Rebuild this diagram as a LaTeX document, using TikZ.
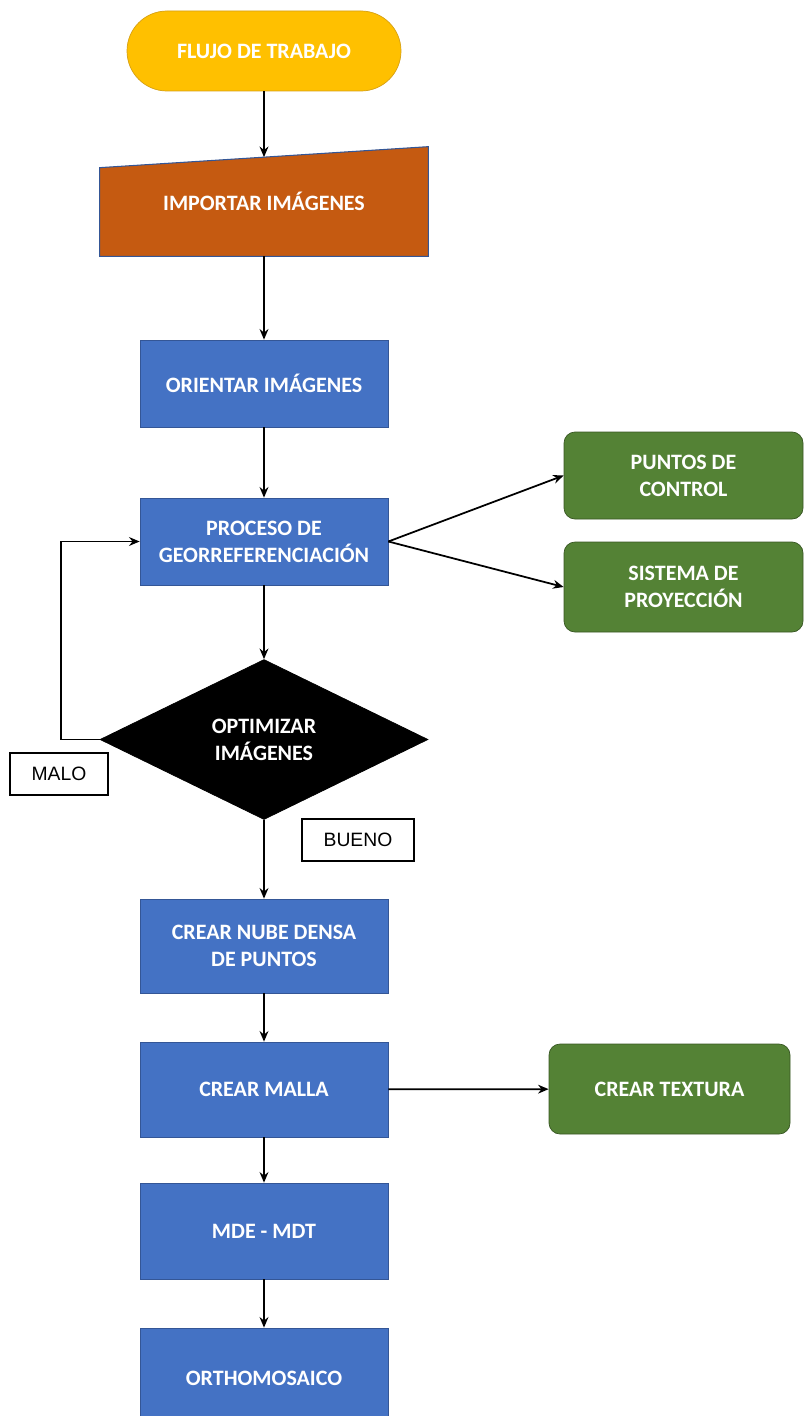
\documentclass[tikz,border=0pt]{standalone}
\usepackage{fontspec}
\setmainfont{Carlito}
\newfontfamily\arialfont{Liberation Sans}
\usepackage{tikz}
\usetikzlibrary{shapes.geometric, arrows.meta, positioning, calc, backgrounds}
\definecolor{startyellow}{RGB}{255,192,0}
\definecolor{startedge}{RGB}{214,160,20}
\definecolor{importorange}{RGB}{197,90,17}
\definecolor{procblue}{RGB}{68,114,196}
\definecolor{edgeblue}{RGB}{52,86,150}
\definecolor{subgreen}{RGB}{84,130,53}
\definecolor{edgegreen}{RGB}{56,87,35}

\begin{document}
\begin{tikzpicture}[
    boxtext/.style={text=white, font=\fontsize{12.5}{15.3}\selectfont\bfseries, align=center},
    terminal/.style={rectangle, draw=startedge, fill=startyellow, rounded corners=0.8cm, minimum width=5.48cm, minimum height=1.6cm, boxtext},
    process/.style={rectangle, draw=edgeblue, fill=procblue, minimum width=4.96cm, minimum height=1.74cm, boxtext},
    subproc/.style={rectangle, draw=edgegreen, fill=subgreen, rounded corners=0.22cm, minimum width=4.78cm, minimum height=1.74cm, boxtext},
    decision/.style={diamond, fill=black, draw=black, minimum width=6.56cm, minimum height=3.2cm, inner sep=0pt, boxtext},
    tag/.style={rectangle, draw, line width=0.6pt, font=\arialfont\fontsize{11}{13}\selectfont, minimum height=0.84cm},
    arrow/.style={->, >={Stealth[length=6pt,width=5pt]}, line width=1pt}
]
\useasboundingbox (0,0) rectangle (16.08,-28.32);

% Start
\node[terminal] (inicio) at (5.28,-1.02) {FLUJO DE TRABAJO};

% Manual input (slanted top)
\node[boxtext, minimum width=6.56cm, minimum height=2.18cm] (importar) at (5.28,-4.03) {IMPORTAR IMÁGENES};
\begin{scope}[on background layer]
\filldraw[fill=importorange, draw=edgeblue, line width=0.6pt]
    (importar.south west) -- (importar.south east) -- (importar.north east)
    -- ([yshift=-0.42cm]importar.north west) -- cycle;
\end{scope}
\coordinate (importarin) at ($(importar.north east)!0.5!([yshift=-0.42cm]importar.north west)$);

% Main column
\node[process] (orientar) at (5.28,-7.67) {ORIENTAR IMÁGENES};
\node[process] (georef) at (5.28,-10.83) {PROCESO DE\\GEORREFERENCIACIÓN};
\node[decision] (optimizar) at (5.28,-14.79) {OPTIMIZAR\\IMÁGENES};
\node[process, minimum height=1.88cm] (nube) at (5.28,-18.92) {CREAR NUBE DENSA\\DE PUNTOS};
\node[process, minimum height=1.9cm] (malla) at (5.28,-21.79) {CREAR MALLA};
\node[process, minimum height=1.92cm] (mde) at (5.28,-24.62) {MDE - MDT};
\node[process, minimum height=2cm] (ortho) at (5.28,-27.56) {ORTHOMOSAICO};

% Side boxes
\node[subproc] (puntos) at (13.67,-9.51) {PUNTOS DE\\CONTROL};
\node[subproc, minimum height=1.8cm] (sistema) at (13.67,-11.74) {SISTEMA DE\\PROYECCIÓN};
\node[subproc, minimum width=4.82cm, minimum height=1.8cm] (textura) at (13.39,-21.78) {CREAR TEXTURA};

% Decision labels
\node[tag, minimum width=1.96cm] (malo) at (1.18,-15.48) {MALO};
\node[tag, minimum width=2.24cm] (bueno) at (7.16,-16.8) {BUENO};

% Arrows
\draw[arrow] (inicio) -- (importarin);
\draw[arrow] (importar) -- (orientar);
\draw[arrow] (orientar) -- (georef);
\draw[arrow] (georef) -- (optimizar);
\draw[arrow] (georef.east) -- (puntos.west);
\draw[arrow] (georef.east) -- (sistema.west);
\draw[arrow] (optimizar.west) -- ++(-0.78,0) |- (georef.west);
\draw[arrow] (optimizar) -- (nube);
\draw[arrow] (nube) -- (malla);
\draw[arrow] (malla) -- (textura);
\draw[arrow] (malla) -- (mde);
\draw[arrow] (mde) -- (ortho);

\end{tikzpicture}
\end{document}
